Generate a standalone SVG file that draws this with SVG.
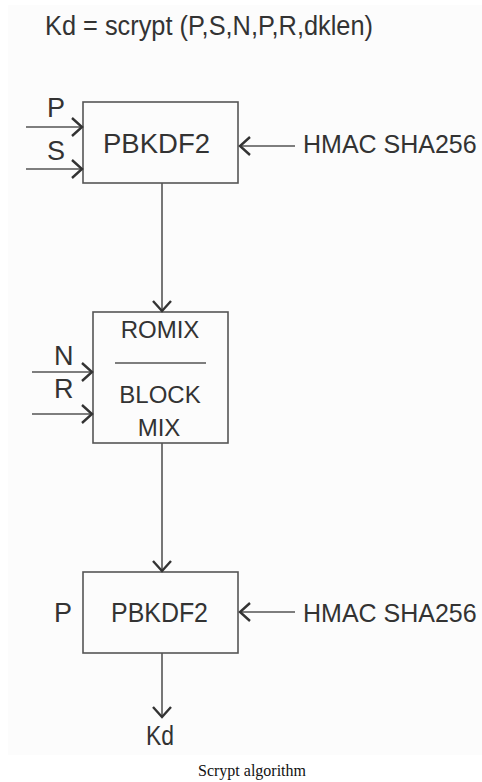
<svg xmlns="http://www.w3.org/2000/svg" width="482" height="782" viewBox="0 0 482 782">
<style>
.t{font-family:"Liberation Sans",Arial,sans-serif;fill:#333;font-size:27px}
.h{font-family:"Liberation Sans",Arial,sans-serif;fill:#333;font-size:25px}
.m{font-family:"Liberation Sans",Arial,sans-serif;fill:#333;font-size:24px;text-anchor:middle}
.box{fill:none;stroke:#555;stroke-width:1.6}
.c{stroke:#555;stroke-width:1.6;fill:none}
.cap{font-family:"Liberation Serif","Times New Roman",serif;fill:#111;font-size:16px;text-anchor:middle}
</style>
<defs>
<marker id="ah" markerUnits="userSpaceOnUse" viewBox="-12 -11 14 22" markerWidth="14" markerHeight="22" refX="0" refY="0" orient="auto">
<path d="M-10,-9 L0,0 L-10,9" fill="none" stroke="#333" stroke-width="2.4"/>
</marker>
</defs>
<rect x="8" y="5" width="474" height="750" fill="#fcfcfc"/>
<text class="t" x="45" y="35" textLength="328" lengthAdjust="spacingAndGlyphs">Kd = scrypt (P,S,N,P,R,dklen)</text>
<g id="pbkdf2-top">
<rect class="box" x="83" y="102" width="155" height="81"/>
<text class="t" x="103" y="153" textLength="107" lengthAdjust="spacingAndGlyphs">PBKDF2</text>
</g>
<g id="romix">
<rect class="box" x="93" y="312" width="135" height="131"/>
<text class="m" x="160" y="338">ROMIX</text>
<line class="c" x1="115" y1="363" x2="206" y2="363"/>
<text class="m" x="160" y="403">BLOCK</text>
<text class="m" x="159" y="436">MIX</text>
</g>
<g id="pbkdf2-bottom">
<rect class="box" x="83" y="572" width="155" height="81"/>
<text class="t" x="111" y="622" textLength="97" lengthAdjust="spacingAndGlyphs">PBKDF2</text>
</g>
<g id="labels">
<text class="t" x="47" y="117">P</text>
<text class="t" x="47" y="160">S</text>
<text class="h" x="303" y="153">HMAC SHA256</text>
<text class="t" x="54" y="365" font-size="24">N</text>
<text class="t" x="54" y="398" font-size="24">R</text>
<text class="t" x="54" y="622">P</text>
<text class="h" x="303" y="622">HMAC SHA256</text>
<text class="t" x="146" y="745" font-size="28" textLength="28" lengthAdjust="spacingAndGlyphs">Kd</text>
</g>
<g id="connectors">
<line class="c" x1="26" y1="127" x2="82" y2="127" marker-end="url(#ah)"/>
<line class="c" x1="26" y1="169" x2="82" y2="169" marker-end="url(#ah)"/>
<line class="c" x1="295" y1="146" x2="240" y2="146" marker-end="url(#ah)"/>
<line class="c" x1="162" y1="183" x2="162" y2="311" marker-end="url(#ah)"/>
<line class="c" x1="32" y1="372" x2="92" y2="372" marker-end="url(#ah)"/>
<line class="c" x1="32" y1="414" x2="92" y2="414" marker-end="url(#ah)"/>
<line class="c" x1="162" y1="443" x2="162" y2="571" marker-end="url(#ah)"/>
<line class="c" x1="295" y1="612" x2="240" y2="612" marker-end="url(#ah)"/>
<line class="c" x1="162" y1="653" x2="162" y2="717" marker-end="url(#ah)"/>
</g>
<text class="cap" x="252" y="776">Scrypt algorithm</text>
</svg>
